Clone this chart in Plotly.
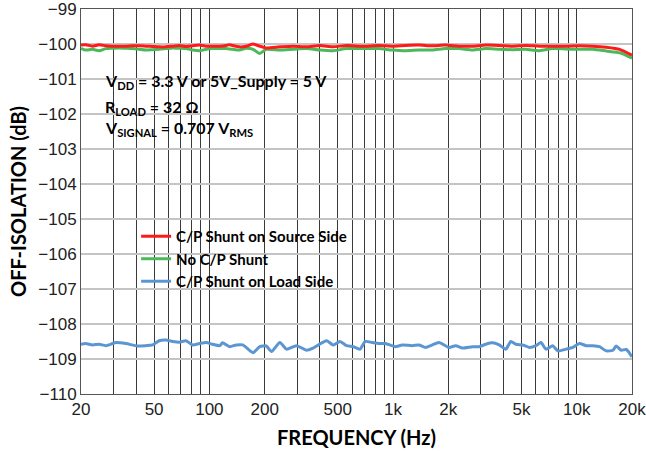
import plotly.graph_objects as go

# ---- data ----
freq_rg = [20, 21.2, 23.1, 25.1, 27.3, 29.7, 32.3, 35.1, 38.2, 41.5, 45.1, 49.1, 53.3, 58,
           63.1, 68.7, 74.6, 81.1, 88.3, 96, 104, 114, 123.5, 129, 134, 146, 159, 173, 188,
           204, 242, 286, 338, 400, 472, 558, 661, 706, 836, 988, 1169, 1384, 1637, 1932,
           2286, 2706, 3200, 3784, 4477, 5285, 6265, 7400, 8755, 10350, 12250, 14480,
           17140, 20000]
red_vals = [-100.03, -100.02, -100.06, -100.02, -100.05, -100.06, -100.06, -100.06, -100.05,
            -100.05, -100.06, -100.07, -100.08, -100.08, -100.06, -100.04, -100.07, -100.05,
            -100.03, -100.06, -100.06, -100.06, -100.04, -100.02, -100.04, -100.08, -100.06,
            -100.00, -100.06, -100.11, -100.08, -100.06, -100.08, -100.04, -100.08, -100.04,
            -100.06, -100.06, -100.04, -100.06, -100.04, -100.03, -100.05, -100.03, -100.06,
            -100.06, -100.03, -100.04, -100.06, -100.04, -100.06, -100.06, -100.06, -100.05,
            -100.06, -100.09, -100.15, -100.32]
green_vals = [-100.12, -100.17, -100.15, -100.19, -100.13, -100.12, -100.11, -100.12, -100.13,
              -100.15, -100.17, -100.16, -100.15, -100.13, -100.11, -100.12, -100.13, -100.17,
              -100.19, -100.15, -100.13, -100.13, -100.13, -100.14, -100.15, -100.17, -100.12,
              -100.15, -100.27, -100.15, -100.17, -100.15, -100.13, -100.17, -100.19, -100.13,
              -100.13, -100.13, -100.13, -100.17, -100.19, -100.17, -100.17, -100.13, -100.13,
              -100.17, -100.13, -100.15, -100.16, -100.15, -100.19, -100.13, -100.14, -100.15,
              -100.15, -100.20, -100.25, -100.40]

freq_blue = [20, 21.2, 23.1, 25.1, 27.3, 29.7, 31, 35.1, 40.6, 45.1, 49.1, 53.3, 58, 63.1,
             68.7, 74.6, 81.1, 88.3, 96, 104, 114, 118, 129, 140, 152, 173, 188, 204, 218,
             242, 263, 298, 338, 367, 435, 472, 514, 558, 608, 661, 706, 769, 836, 909,
             1030, 1122, 1271, 1384, 1504, 1637, 1778, 2018, 2193, 2387, 2706, 2944, 3200,
             3477, 3784, 4112, 4376, 4666, 5072, 5520, 6000, 6383, 6808, 7400, 7888, 8755,
             9526, 10350, 11260, 12250, 13310, 14480, 15740, 16410, 17470, 18610, 20000]
blue_vals = [-108.58, -108.56, -108.60, -108.58, -108.62, -108.56, -108.53, -108.56, -108.63,
             -108.62, -108.60, -108.48, -108.46, -108.50, -108.52, -108.48, -108.60, -108.56,
             -108.53, -108.58, -108.62, -108.54, -108.65, -108.60, -108.60, -108.82, -108.65,
             -108.63, -108.79, -108.53, -108.72, -108.62, -108.75, -108.69, -108.48, -108.60,
             -108.50, -108.62, -108.65, -108.72, -108.50, -108.53, -108.56, -108.56, -108.65,
             -108.60, -108.62, -108.60, -108.67, -108.60, -108.53, -108.67, -108.62, -108.69,
             -108.65, -108.65, -108.58, -108.54, -108.60, -108.72, -108.50, -108.58, -108.60,
             -108.67, -108.62, -108.53, -108.72, -108.62, -108.77, -108.72, -108.67, -108.56,
             -108.62, -108.62, -108.65, -108.77, -108.75, -108.63, -108.75, -108.73, -108.94]

series_names = ["C/P Shunt on Source Side", "No C/P Shunt", "C/P Shunt on Load Side"]
x_tick_vals = [20, 50, 100, 200, 500, 1000, 2000, 5000, 10000, 20000]
x_tick_text = ["20", "50", "100", "200", "500", "1k", "2k", "5k", "10k", "20k"]
y_ticks = [-110, -109, -108, -107, -106, -105, -104, -103, -102, -101, -100, -99]
x_grid = [m * d for d in (10, 100, 1000, 10000) for m in range(1, 10) if 20 <= m * d <= 20000]

RED = "#ff1a1a"
GREEN = "#4cb85a"
BLUE = "#5b96d3"
TITLE_FONT = "Lato"
TICK_FONT = "Liberation Sans, Arial, sans-serif"

fig = go.Figure()
fig.add_trace(go.Scatter(x=freq_blue, y=blue_vals, name=series_names[2], mode="lines",
                         line=dict(color=BLUE, width=3, shape="spline", smoothing=0.6),
                         legendrank=3))
fig.add_trace(go.Scatter(x=freq_rg, y=green_vals, name=series_names[1], mode="lines",
                         line=dict(color=GREEN, width=3, shape="spline", smoothing=0.6),
                         legendrank=2))
fig.add_trace(go.Scatter(x=freq_rg, y=red_vals, name=series_names[0], mode="lines",
                         line=dict(color=RED, width=3, shape="spline", smoothing=0.6),
                         legendrank=1))

# white boxes behind annotation text and legend text (drawn above grid, below data)
fig.add_shape(type="rect", xref="paper", yref="paper", x0=0.034, x1=0.238, y0=0.655, y1=0.847,
              fillcolor="white", line=dict(width=0), layer="between")
fig.add_shape(type="rect", xref="paper", yref="paper", x0=0.172, x1=0.48, y0=0.265, y1=0.435,
              fillcolor="white", line=dict(width=0), layer="between")

ann_lines = ["<b>V<sub>DD</sub> = 3.3 V or 5V_Supply = 5 V</b>",
             "<b>R<sub>LOAD</sub> = 32 \u03a9</b>",
             "<b>V<sub>SIGNAL</sub> = 0.707 V<sub>RMS</sub></b>"]
ann_y = [0.812, 0.744, 0.69]
for txt, yy in zip(ann_lines, ann_y):
    fig.add_annotation(text=txt, xref="paper", yref="paper", x=0.04, y=yy,
                       xanchor="left", yanchor="middle", showarrow=False,
                       font=dict(family=TITLE_FONT, size=16, color="black"))

fig.update_layout(
    width=646, height=453,
    margin=dict(l=81, r=14, t=9, b=59),
    paper_bgcolor="white", plot_bgcolor="white",
    showlegend=True,
    legend=dict(x=0.1, y=0.452, xanchor="left", yanchor="top",
                bgcolor="rgba(0,0,0,0)", borderwidth=0,
                font=dict(family=TITLE_FONT, size=15, color="black", weight="bold"),
                traceorder="normal"),
    xaxis=dict(type="log", range=[1.30102, 4.30104], automargin=False,
               tickmode="array", tickvals=x_tick_vals, ticktext=x_tick_text,
               ticklabeloverflow="allow",
               showgrid=True, gridcolor="#3a3a3a", gridwidth=1,
               minor=dict(tickmode="array", tickvals=x_grid, showgrid=True,
                          gridcolor="#3a3a3a", gridwidth=1, ticks=""),
               showline=True, mirror=True, linecolor="#555555", linewidth=1,
               ticks="", tickfont=dict(family=TICK_FONT, size=17, color="#222222"),
               title=dict(text="<b>FREQUENCY (Hz)</b>", standoff=12,
                          font=dict(family=TITLE_FONT, size=20, color="black")),
               zeroline=False),
    yaxis=dict(range=[-110.002, -98.998], automargin=False,
               tickmode="array", tickvals=y_ticks, ticklabeloverflow="allow",
               showgrid=True, gridcolor="#c4c4c4", gridwidth=1.5,
               showline=True, mirror=True, linecolor="#555555", linewidth=1,
               ticks="", tickfont=dict(family=TICK_FONT, size=17, color="#222222"),
               title=dict(text="<b>OFF-ISOLATION (dB)</b>", standoff=6,
                          font=dict(family=TITLE_FONT, size=20, color="black")),
               zeroline=False),
)

# remove the default 8 px body margin so the figure fills the window exactly
fig.write_html("out.html", config={"displayModeBar": False},
               post_script="document.body.style.margin='0';")
